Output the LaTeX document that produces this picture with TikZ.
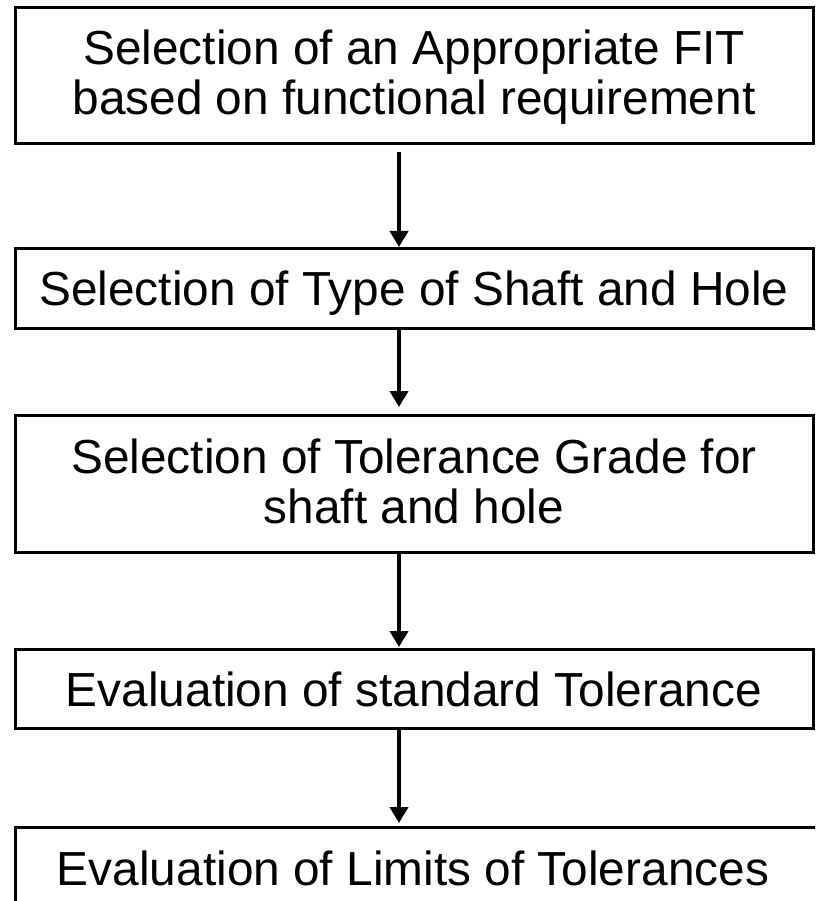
\documentclass[tikz,border=0pt]{standalone}
\usepackage{fontspec}
\setmainfont{Liberation Sans}
\usetikzlibrary{arrows.meta}
\begin{document}
\begin{tikzpicture}[x=1pt,y=-1pt,
  box/.style={draw=black,line width=3pt,inner sep=0pt,outer sep=0pt},
  lbl/.style={anchor=base,font=\fontsize{47.8}{50}\selectfont,inner sep=0pt},
  arr/.style={line width=4.5pt,-{Triangle[width=18pt,length=16pt]}}]
\clip (0,0) rectangle (815,901);
\fill[white] (0,0) rectangle (815,901);
\coordinate (ax) at (399,0);
\node[box,minimum width=798pt,minimum height=136pt] (b1) at (414,76) {};
\node[box,minimum width=798pt,minimum height=80pt] (b2) at (414,288) {};
\node[box,minimum width=798pt,minimum height=137pt] (b3) at (414,483.5) {};
\node[box,minimum width=798pt,minimum height=79pt] (b4) at (414,688.5) {};
\node[box,minimum width=815pt,minimum height=133pt] (b5) at (422.5,893.5) {};
\node[lbl] (t1a) at (414,65) {Selection of an Appropriate FIT};
\node[lbl] (t1b) at (414,115) {based on functional requirement};
\node[lbl] (t2) at (414,305) {Selection of Type of Shaft and Hole};
\node[lbl] (t3a) at (414,473) {Selection of Tolerance Grade for};
\node[lbl] (t3b) at (414,523) {shaft and hole};
\node[lbl] (t4) at (414,706) {Evaluation of standard Tolerance};
\node[lbl] (t5) at (413,885) {Evaluation of Limits of Tolerances};
\draw[arr,shorten >=1pt] ([yshift=-8pt]b1.south -| ax) -- (b2.north -| ax);
\draw[arr,shorten >=8pt] (b2.south -| ax) -- (b3.north -| ax);
\draw[arr,shorten >=2pt] (b3.south -| ax) -- (b4.north -| ax);
\draw[arr,shorten >=4pt] (b4.south -| ax) -- (b5.north -| ax);
\end{tikzpicture}
\end{document}
